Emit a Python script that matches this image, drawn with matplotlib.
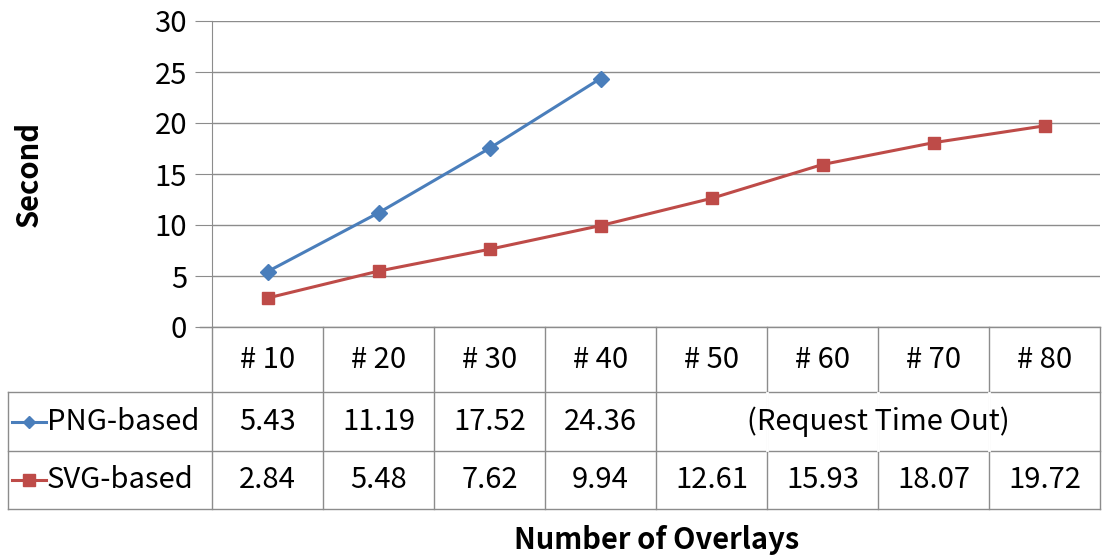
import matplotlib.pyplot as plt
from matplotlib.lines import Line2D

plt.rcParams['font.family'] = ['Noto Sans CJK KR', 'DejaVu Sans']

categories = ['# 10', '# 20', '# 30', '# 40', '# 50', '# 60', '# 70', '# 80']
png_times = [5.43, 11.19, 17.52, 24.36]
svg_times = [2.84, 5.48, 7.62, 9.94, 12.61, 15.93, 18.07, 19.72]
png_label = 'PNG-based'
svg_label = 'SVG-based'
timeout_text = '(Request Time Out)'

blue = '#4A7EBB'
red = '#BE4B48'
grid_c = '#8C8C8C'

W, H = 1102, 559
fig = plt.figure(figsize=(W / 100, H / 100), dpi=100)


def fx(x):
    return x / W


def fy(y):
    return 1 - y / H


# plot area in pixels
left, right, top, bottom = 212, 1100, 21, 327
ax = fig.add_axes([fx(left), fy(bottom), fx(right - left), (bottom - top) / H])

xs = list(range(len(categories)))
ax.plot(xs[:len(png_times)], png_times, color=blue, lw=2.2, marker='D', ms=8,
        label=png_label)
ax.plot(xs, svg_times, color=red, lw=2.2, marker='s', ms=9, label=svg_label)

ax.set_xlim(-0.5, len(categories) - 0.5)
ax.set_ylim(0, 30)
ax.set_yticks(range(0, 31, 5))
ax.tick_params(axis='y', length=12, color=grid_c, labelsize=21, pad=6)
ax.tick_params(axis='x', length=0, labelbottom=False)
ax.grid(axis='y', color=grid_c, lw=1)
ax.set_axisbelow(True)
for s in ['top', 'right']:
    ax.spines[s].set_visible(False)
ax.spines['left'].set_color(grid_c)
ax.spines['bottom'].set_visible(False)
ax.set_ylabel('Second', fontsize=21, fontweight='bold')
ax.yaxis.set_label_coords((44 - left) / (right - left), 0.5)

# data table below the plot
col_w = (right - left) / len(categories)
row_top, row_hdr, row_mid, row_bot = 327, 392, 451, 509
table_left = 8
lk = dict(color=grid_c, lw=1, transform=fig.transFigure)

fig.add_artist(Line2D([fx(200), fx(right)], [fy(row_top)] * 2, **lk))
for yy in [row_hdr, row_mid, row_bot]:
    fig.add_artist(Line2D([fx(table_left), fx(right)], [fy(yy)] * 2, **lk))
fig.add_artist(Line2D([fx(table_left)] * 2, [fy(row_hdr), fy(row_bot)], **lk))
for i in range(len(categories) + 1):
    x = left + i * col_w
    fig.add_artist(Line2D([fx(x)] * 2, [fy(row_top), fy(row_bot)], **lk))

fs = 21
for i, c in enumerate(categories):
    cx = left + (i + 0.5) * col_w
    fig.text(fx(cx), fy((row_top + row_hdr) / 2), c, ha='center', va='center',
             fontsize=fs)
    if i < len(png_times):
        fig.text(fx(cx), fy((row_hdr + row_mid) / 2), f'{png_times[i]:.2f}',
                 ha='center', va='center', fontsize=fs)
    fig.text(fx(cx), fy((row_mid + row_bot) / 2), f'{svg_times[i]:.2f}',
             ha='center', va='center', fontsize=fs)

# merged cell for the timed-out PNG runs
for i in range(len(png_times) + 1, len(categories)):
    x = left + i * col_w
    fig.add_artist(Line2D([fx(x)] * 2, [fy(row_hdr + 1), fy(row_mid - 1)],
                          color='white', lw=2, transform=fig.transFigure))
tx = left + (len(png_times) + len(categories)) / 2 * col_w
fig.text(fx(tx), fy((row_hdr + row_mid) / 2), timeout_text, ha='center',
         va='center', fontsize=fs)

# legend keys in the table
for yc, col, mk, ms, lab in [((row_hdr + row_mid) / 2, blue, 'D', 6, png_label),
                             ((row_mid + row_bot) / 2, red, 's', 8, svg_label)]:
    fig.add_artist(Line2D([fx(12), fx(46)], [fy(yc)] * 2, color=col, lw=2.2,
                          transform=fig.transFigure))
    fig.add_artist(Line2D([fx(29)], [fy(yc)], color=col, marker=mk, ms=ms,
                          transform=fig.transFigure))
    fig.text(fx(47), fy(yc), lab, ha='left', va='center', fontsize=fs)

fig.text(fx(657), fy(540), 'Number of Overlays', ha='center', va='center',
         fontsize=21, fontweight='bold')

fig.savefig('out.png', dpi=100)
